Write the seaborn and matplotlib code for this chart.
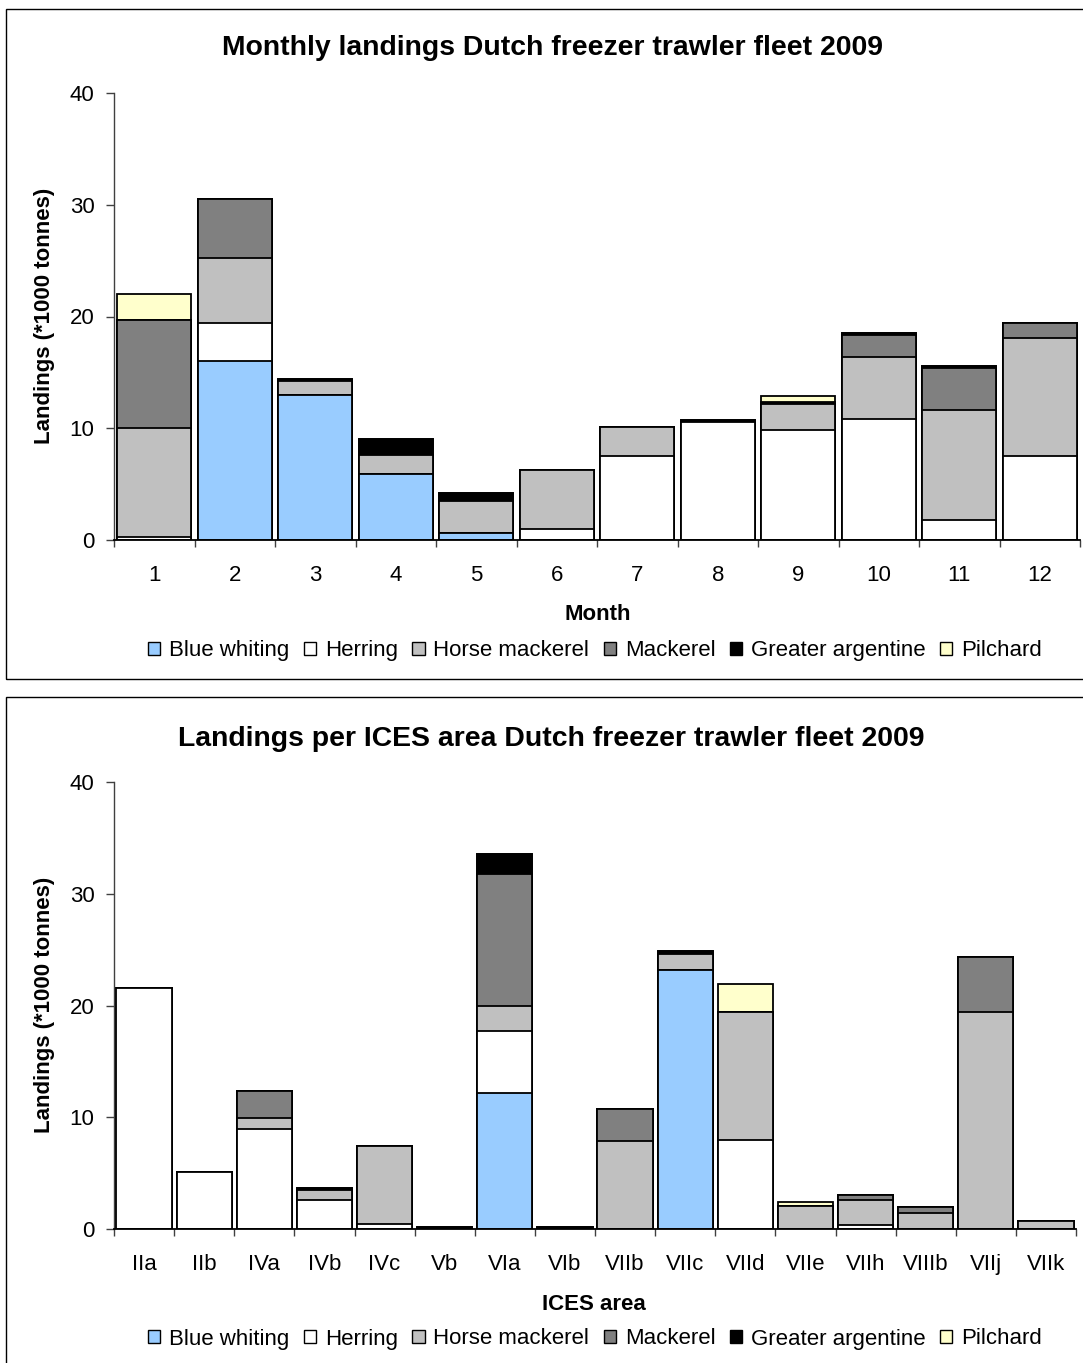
import numpy as np
import pandas as pd
import matplotlib
matplotlib.use("Agg")
import matplotlib.pyplot as plt
from matplotlib.patches import Patch, Rectangle
import seaborn as sns

# ---------------- data ----------------
species = ["Blue whiting", "Herring", "Horse mackerel", "Mackerel",
           "Greater argentine", "Pilchard"]
colors = ["#99CCFF", "#FFFFFF", "#C0C0C0", "#808080", "#000000", "#FFFFCC"]

months = ["1", "2", "3", "4", "5", "6", "7", "8", "9", "10", "11", "12"]
m_blue_whiting = [0, 16.05, 13.0, 5.9, 0.65, 0, 0, 0, 0, 0, 0, 0]
m_herring = [0.3, 3.35, 0, 0, 0, 1.0, 7.55, 10.6, 9.8, 10.8, 1.8, 7.55]
m_horse_mackerel = [9.7, 5.8, 1.25, 1.75, 2.85, 5.25, 2.55, 0, 2.35, 5.6, 9.8, 10.55]
m_mackerel = [9.7, 5.3, 0, 0, 0, 0, 0, 0, 0, 1.9, 3.8, 1.3]
m_greater_argentine = [0, 0, 0.15, 1.35, 0.7, 0, 0, 0.15, 0.2, 0.2, 0.2, 0]
m_pilchard = [2.3, 0, 0, 0, 0, 0, 0, 0, 0.5, 0, 0, 0]

areas = ["IIa", "IIb", "IVa", "IVb", "IVc", "Vb", "VIa", "VIb", "VIIb", "VIIc",
         "VIId", "VIIe", "VIIh", "VIIIb", "VIIj", "VIIk"]
a_blue_whiting = [0, 0, 0, 0, 0, 0, 12.15, 0, 0, 23.2, 0, 0, 0, 0, 0, 0]
a_herring = [21.6, 5.1, 8.95, 2.6, 0.45, 0, 5.6, 0, 0, 0, 8.0, 0, 0.35, 0, 0, 0]
a_horse_mackerel = [0, 0, 1.0, 0.9, 6.95, 0, 2.25, 0, 7.85, 1.45, 11.4, 2.1, 2.25, 1.45, 19.4, 0.7]
a_mackerel = [0, 0, 2.4, 0, 0, 0, 11.8, 0, 2.9, 0, 0, 0, 0.45, 0.5, 4.95, 0]
a_greater_argentine = [0, 0, 0, 0.2, 0, 0.15, 1.8, 0.15, 0, 0.2, 0, 0, 0, 0, 0, 0]
a_pilchard = [0, 0, 0, 0, 0, 0, 0, 0, 0, 0, 2.55, 0.35, 0, 0, 0, 0]

# ---------------- style ----------------
sns.set_style("ticks")
plt.rcParams["font.family"] = ["Liberation Sans", "DejaVu Sans"]
plt.rcParams["text.color"] = "black"
plt.rcParams["axes.labelcolor"] = "black"
plt.rcParams["xtick.color"] = "black"
plt.rcParams["ytick.color"] = "black"

W, H = 1083, 1363
fig = plt.figure(figsize=(W / 100, H / 100), dpi=100)


def fx(px):
    return px / W


def fy(py):
    return 1 - py / H


def stacked(ax, cats, layers, xname):
    df = pd.DataFrame({xname: cats})
    cum = np.zeros(len(cats))
    cols = []
    for name, vals in zip(species, layers):
        cum = cum + np.asarray(vals, dtype=float)
        df[name] = cum
        cols.append(name)
    # draw from the top layer (total) down so lower layers overlay
    for name, col in reversed(list(zip(cols, colors))):
        sns.barplot(data=df, x=xname, y=name, order=cats, color=col,
                    saturation=1, edgecolor="black", linewidth=1.3,
                    width=0.92, errorbar=None, ax=ax)
    n = len(cats)
    ax.set_xlim(-0.5, n - 0.5)
    ax.set_ylim(0, 40)
    ax.set_yticks([0, 10, 20, 30, 40])
    ax.set_xticks(np.arange(-0.5, n, 1.0), minor=True)
    ax.tick_params(axis="x", which="major", length=0, pad=18, labelsize=16,
                   labelcolor="black")
    ax.tick_params(axis="x", which="minor", length=5, width=1, color="#404040")
    ax.tick_params(axis="y", which="major", length=6, width=1, pad=8,
                   labelsize=16, color="#404040", labelcolor="black")
    ax.set_xlabel("")
    ax.set_ylabel("")
    sns.despine(ax=ax)
    ax.spines["left"].set_color("#404040")
    ax.spines["left"].set_linewidth(1)
    ax.spines["bottom"].set_color("#000000")
    ax.spines["bottom"].set_linewidth(1.3)


# top chart
ax1 = fig.add_axes([fx(114), fy(540), fx(1080) - fx(114), fy(93) - fy(540)])
stacked(ax1, months,
        [m_blue_whiting, m_herring, m_horse_mackerel, m_mackerel,
         m_greater_argentine, m_pilchard], "Month")

# bottom chart
ax2 = fig.add_axes([fx(114), fy(1229), fx(1076) - fx(114), fy(782) - fy(1229)])
stacked(ax2, areas,
        [a_blue_whiting, a_herring, a_horse_mackerel, a_mackerel,
         a_greater_argentine, a_pilchard], "Area")

# frames
fig.patches.append(Rectangle((fx(6), fy(679)), 1.2, fy(9) - fy(679),
                             transform=fig.transFigure, fill=False,
                             edgecolor="black", linewidth=1.0))
fig.patches.append(Rectangle((fx(6), fy(1400)), 1.2, fy(697) - fy(1400),
                             transform=fig.transFigure, fill=False,
                             edgecolor="black", linewidth=1.0))

# titles and labels
fig.text(fx(552), fy(48), "Monthly landings Dutch freezer trawler fleet 2009",
         ha="center", va="center", fontsize=20.4, fontweight="bold", color="black")
fig.text(fx(551), fy(739), "Landings per ICES area Dutch freezer trawler fleet 2009",
         ha="center", va="center", fontsize=20.4, fontweight="bold", color="black")
fig.text(fx(598), fy(614), "Month", ha="center", va="center",
         fontsize=16, fontweight="bold", color="black")
fig.text(fx(594), fy(1304), "ICES area", ha="center", va="center",
         fontsize=16, fontweight="bold", color="black")
fig.text(fx(45), fy(316), "Landings (*1000 tonnes)", ha="center", va="center",
         rotation=90, fontsize=16, fontweight="bold", color="black")
fig.text(fx(45), fy(1005), "Landings (*1000 tonnes)", ha="center", va="center",
         rotation=90, fontsize=16, fontweight="bold", color="black")

# legends
handles = [Patch(facecolor=c, edgecolor="black", linewidth=1.0, label=s)
           for s, c in zip(species, colors)]
for ycen in (651, 1339):
    leg = fig.legend(handles=handles, loc="center",
                     bbox_to_anchor=(fx(595), fy(ycen)),
                     ncol=6, frameon=False, fontsize=16, handlelength=0.55,
                     handleheight=0.55, handletextpad=0.4, columnspacing=0.65,
                     borderpad=0, borderaxespad=0)
    for t in leg.get_texts():
        t.set_color("black")

fig.savefig("out.png", dpi=100)
